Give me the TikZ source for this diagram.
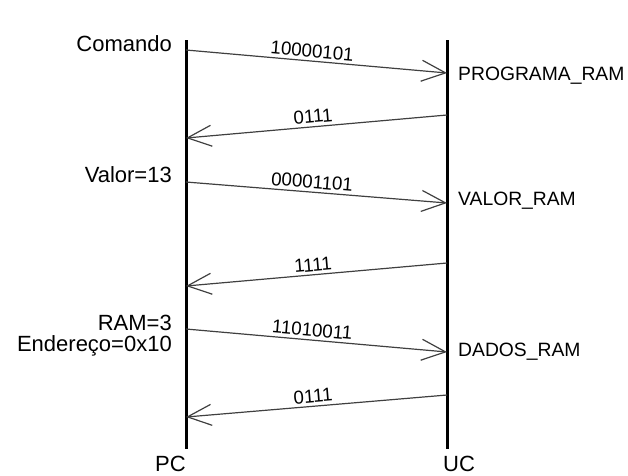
\documentclass[tikz,border=0pt]{standalone}
\usepackage{fontspec}
\setmainfont{Liberation Sans}
\usetikzlibrary{arrows.meta,positioning}

\begin{document}
\begin{tikzpicture}[x=1pt,y=-1pt,
    vida/.style={line width=3pt},
    msg/.style={draw=black!75,line width=1.2pt,-{Straight Barb[length=24pt,width=21pt]}},
    bits/.style={sloped,anchor=south,inner sep=3pt,font=\fontsize{18.7}{20}\selectfont},
    cmd/.style={anchor=base east,inner sep=0pt,font=\fontsize{22}{21}\selectfont},
    reg/.style={anchor=base west,inner sep=0pt,font=\fontsize{19.3}{21}\selectfont}]
    \useasboundingbox (0,0) rectangle (628,475);

    % linhas de vida
    \coordinate (pctop) at (186,40);
    \coordinate (pcbot) at (186,449);
    \coordinate (uctop) at (447,40);
    \coordinate (ucbot) at (447,449);
    \draw[vida] (pctop) -- (pcbot);
    \draw[vida] (uctop) -- (ucbot);
    \node[cmd] (pc) at (186,471) {PC};
    \node[reg,font=\fontsize{22}{21}\selectfont] (uc) at (443,471) {UC};

    % pontos das mensagens
    \coordinate (pc1) at (186,50);  \coordinate (uc1) at (447,73);
    \coordinate (uc2) at (447,115); \coordinate (pc2) at (186,138);
    \coordinate (pc3) at (186,182); \coordinate (uc3) at (447,203);
    \coordinate (uc4) at (447,263); \coordinate (pc4) at (186,286);
    \coordinate (pc5) at (186,329); \coordinate (uc5) at (447,352);
    \coordinate (uc6) at (447,395); \coordinate (pc6) at (186,417);

    % mensagens PC -> UC
    \draw[msg] (pc1) -- node[bits,pos=0.48] (b1) {10000101} (uc1);
    \draw[msg] (pc3) -- node[bits,pos=0.48] (b3) {00001101} (uc3);
    \draw[msg] (pc5) -- node[bits,pos=0.48] (b5) {11010011} (uc5);

    % respostas UC -> PC
    \draw[msg] (uc2) -- node[bits,pos=0.51] (b2) {0111} (pc2);
    \draw[msg] (uc4) -- node[bits,pos=0.51] (b4) {1111} (pc4);
    \draw[msg] (uc6) -- node[bits,pos=0.51] (b6) {0111} (pc6);

    % textos do lado do PC
    \node[cmd] (comando) at (172,51) {Comando};
    \node[cmd] (valor) at (172,182) {Valor=13};
    \node[cmd] (ram) at (172,330) {RAM=3};
    \node[cmd] (ender) at (172,351) {Endereço=0x10};

    % registos do lado da UC
    \node[reg] (prog) at (458,80) {PROGRAMA\_RAM};
    \node[reg] (vram) at (458,205) {VALOR\_RAM};
    \node[reg] (dram) at (458,356) {DADOS\_RAM};
\end{tikzpicture}
\end{document}
